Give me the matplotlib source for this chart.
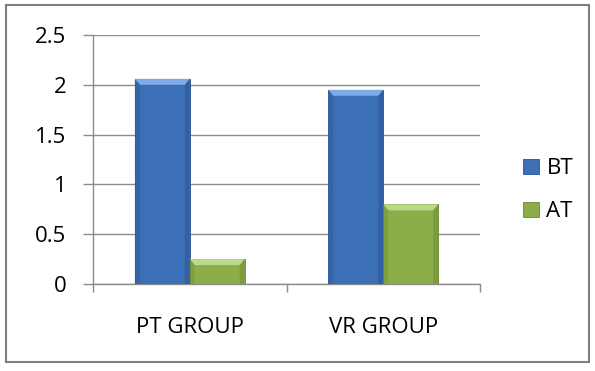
import matplotlib.pyplot as plt
import matplotlib.patches as patches
import numpy as np

groups = ['PT GROUP', 'VR GROUP']
series = ['BT', 'AT']
bt_values = [2.06, 1.95]
at_values = [0.25, 0.80]
y_ticks = [0, 0.5, 1, 1.5, 2, 2.5]

face = ['#3b6fb6', '#8cae48']
light = ['#7eaae6', '#bcd98a']
dark = ['#2a5290', '#6b8a33']

plt.rcParams['font.family'] = ['Open Sans', 'DejaVu Sans']
fs = 16

fig = plt.figure(figsize=(5.95, 3.71), dpi=100)
ax = fig.add_axes([93 / 595, 1 - 284 / 371, 387 / 595, 249 / 371])

x = np.arange(len(groups))
w = 0.284
bars_bt = ax.bar(x - w / 2, bt_values, w, color=face[0], edgecolor=dark[0], linewidth=0.6, label=series[0], zorder=3)
bars_at = ax.bar(x + w / 2, at_values, w, color=face[1], edgecolor=dark[1], linewidth=0.6, label=series[1], zorder=3)

ax.set_xlim(-0.5, 1.5)
ax.set_ylim(0, 2.5)

# bevel on each bar: lighter top, darker sides
ppu = 249 / 2.5
bev_y = 6 / ppu
for k, bars in enumerate([bars_bt, bars_at]):
    for r in bars:
        x0, w0, h0 = r.get_x(), r.get_width(), r.get_height()
        bx = w0 * 0.09
        top = patches.Polygon([(x0, h0), (x0 + w0, h0), (x0 + w0 - bx, h0 - bev_y), (x0 + bx, h0 - bev_y)],
                              closed=True, facecolor=light[k], edgecolor='none', zorder=4)
        lside = patches.Polygon([(x0, h0), (x0 + bx, h0 - bev_y), (x0 + bx, 0), (x0, 0)],
                                closed=True, facecolor=dark[k], edgecolor='none', alpha=0.35, zorder=4)
        rside = patches.Polygon([(x0 + w0, h0), (x0 + w0 - bx, h0 - bev_y), (x0 + w0 - bx, 0), (x0 + w0, 0)],
                                closed=True, facecolor=dark[k], edgecolor='none', alpha=0.5, zorder=4)
        ax.add_patch(top)
        ax.add_patch(lside)
        ax.add_patch(rside)

ax.set_yticks(y_ticks)
ax.set_yticklabels(['0', '0.5', '1', '1.5', '2', '2.5'])
ax.yaxis.grid(True, color='#8c8c8c', linewidth=1.0, zorder=0)
ax.set_axisbelow(True)

ax.set_xticks(x)
ax.set_xticklabels(groups)
ax.set_xticks([-0.5, 0.5, 1.5], minor=True)
ax.tick_params(axis='x', which='major', length=0, pad=24, labelsize=fs, colors='black')
ax.tick_params(axis='x', which='minor', length=6, width=1, color='#8c8c8c')
ax.tick_params(axis='y', length=7, width=1, color='#8c8c8c', pad=12, labelsize=fs)

for s in ['top', 'right']:
    ax.spines[s].set_visible(False)
ax.spines['left'].set_color('#8c8c8c')
ax.spines['bottom'].set_color('#8c8c8c')
ax.spines['left'].set_linewidth(1.0)
ax.spines['bottom'].set_linewidth(1.0)

leg = fig.legend(handles=[bars_bt, bars_at], labels=series, loc='center left',
                 bbox_to_anchor=(512 / 595, 1 - 190 / 371), frameon=False,
                 fontsize=fs, handlelength=0.7, handleheight=0.65, handletextpad=0.35,
                 labelspacing=1.0, borderpad=0)

# outer chart border
fig.patches.append(patches.Rectangle((6 / 595, 1 - 362 / 371), 583 / 595, 357 / 371,
                                     transform=fig.transFigure, fill=False,
                                     edgecolor='#808080', linewidth=1.5))

fig.savefig('out.png', dpi=100)
